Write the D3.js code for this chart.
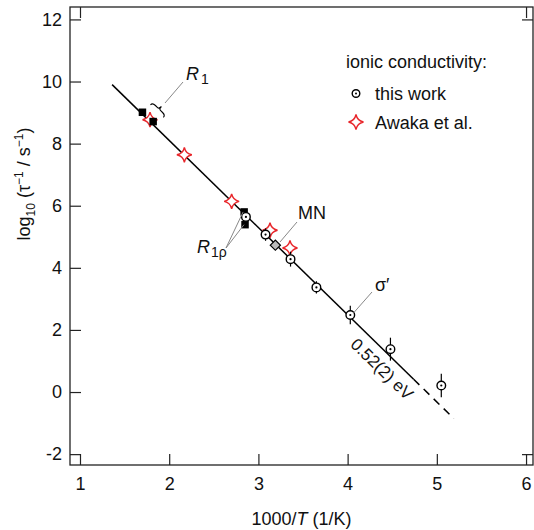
<!DOCTYPE html>
<html><head><meta charset="utf-8">
<script src="https://cdn.jsdelivr.net/npm/d3@7"></script>
<style>body{margin:0;background:#fff}svg{display:block;font-family:"Liberation Sans",Arial,sans-serif}</style>
</head><body><svg id="c" width="534" height="530"></svg>
<script>
// ---- data ----
const xTicks = [1, 2, 3, 4, 5, 6];
const yTicks = [-2, 0, 2, 4, 6, 8, 10, 12];
const xMirrorTicks = [1, 6];
const yMirrorTicks = [-2, 12];
const thisWorkX = [2.86, 3.08, 3.36, 3.65, 4.03, 4.48, 5.05];
const thisWorkY = [5.64, 5.07, 4.28, 3.37, 2.48, 1.38, 0.21];
const thisWorkErr = [0.2, 0.2, 0.24, 0.2, 0.3, 0.37, 0.38];
const awakaX = [1.785, 2.17, 2.70, 3.13, 3.354];
const awakaY = [8.77, 7.64, 6.14, 5.21, 4.64];
const r1X = [1.70, 1.82];
const r1Y = [9.01, 8.71];
const r1rhoX = [2.84, 2.85];
const r1rhoY = [5.80, 5.39];
const mnX = [3.19];
const mnY = [4.73];
const fitSolidX = [1.36, 4.74];
const fitSolidY = [9.90, 0.41];
const fitDashX = [4.74, 5.19];
const fitDashY = [0.41, -0.85];

const svg = d3.select("#c");
const L = 70, R = 533, T = 7, B = 465;
const x = d3.scaleLinear().domain([0.888, 6.078]).range([L, R]);
const y = d3.scaleLinear().domain([-2.35, 12.4]).range([B, T]);
const FS = 18;

// frame
svg.append("rect").attr("x", L).attr("y", T).attr("width", R - L).attr("height", B - T)
  .attr("fill", "none").attr("stroke", "#222").attr("stroke-width", 1.3);

const tl = 11;
// axes with inward ticks
const gx = svg.append("g").attr("transform", `translate(0,${B})`)
  .call(d3.axisBottom(x).tickValues(xTicks).tickSizeInner(-tl).tickSizeOuter(0).tickPadding(12).tickFormat(d3.format("d")));
const gxt = svg.append("g").attr("transform", `translate(0,${T})`)
  .call(d3.axisTop(x).tickValues(xMirrorTicks).tickSizeInner(-tl).tickSizeOuter(0).tickFormat(""));
const gy = svg.append("g").attr("transform", `translate(${L},0)`)
  .call(d3.axisLeft(y).tickValues(yTicks).tickSizeInner(-tl).tickSizeOuter(0).tickPadding(8).tickFormat(d => d < 0 ? "-" + Math.abs(d) : d));
const gyr = svg.append("g").attr("transform", `translate(${R},0)`)
  .call(d3.axisRight(y).tickValues(yMirrorTicks).tickSizeInner(-tl).tickSizeOuter(0).tickFormat(""));
[gx, gxt, gy, gyr].forEach(g => {
  g.select(".domain").remove();
  g.selectAll("line").attr("stroke", "#222").attr("stroke-width", 1.2);
  g.selectAll("text").attr("font-size", FS).attr("fill", "#111").attr("font-family", "Liberation Sans, Arial, sans-serif");
});

// axis titles
const xt = svg.append("text").attr("x", (L + R) / 2).attr("y", 525).attr("text-anchor", "middle").attr("font-size", FS).attr("fill", "#111");
xt.append("tspan").text("1000/");
xt.append("tspan").attr("font-style", "italic").text("T");
xt.append("tspan").text(" (1/K)");

const yt = svg.append("text").attr("transform", "translate(30,184) rotate(-90)").attr("text-anchor", "middle").attr("font-size", FS).attr("fill", "#111");
yt.append("tspan").text("log");
yt.append("tspan").attr("font-size", 12).attr("dy", 5).text("10");
yt.append("tspan").attr("dy", -5).text(" (τ");
yt.append("tspan").attr("font-size", 12).attr("dy", -7).text("−1");
yt.append("tspan").attr("dy", 7).text(" / s");
yt.append("tspan").attr("font-size", 12).attr("dy", -7).text("−1");
yt.append("tspan").attr("dy", 7).text(")");

// fit line
const line = d3.line().x(d => x(d[0])).y(d => y(d[1]));
svg.append("path").attr("d", line(d3.zip(fitSolidX, fitSolidY))).attr("stroke", "#000").attr("stroke-width", 1.5).attr("fill", "none");
svg.append("path").attr("d", line(d3.zip(fitDashX, fitDashY))).attr("stroke", "#000").attr("stroke-width", 1.5).attr("fill", "none").attr("stroke-dasharray", "8,6");

// star path
function starPath(r) {
  const c = r * 0.17;
  return `M0,${-r} Q${c},${-c} ${r},0 Q${c},${c} 0,${r} Q${-c},${c} ${-r},0 Q${-c},${-c} 0,${-r} Z`;
}
// stars
svg.append("g").selectAll("path").data(d3.zip(awakaX, awakaY)).join("path")
  .attr("d", starPath(7.5)).attr("transform", d => `translate(${x(d[0])},${y(d[1])})`)
  .attr("fill", "#fff").attr("stroke", "#e8262b").attr("stroke-width", 1.4);

// squares
const sq = 7.5;
svg.append("g").selectAll("rect").data(d3.zip(r1X.concat(r1rhoX), r1Y.concat(r1rhoY))).join("rect")
  .attr("x", d => x(d[0]) - sq / 2).attr("y", d => y(d[1]) - sq / 2).attr("width", sq).attr("height", sq).attr("fill", "#000");

// diamond
svg.append("g").selectAll("rect").data(d3.zip(mnX, mnY)).join("rect")
  .attr("x", -3.6).attr("y", -3.6).attr("width", 7.2).attr("height", 7.2)
  .attr("transform", d => `translate(${x(d[0])},${y(d[1])}) rotate(45)`)
  .attr("fill", "#bbb").attr("stroke", "#000").attr("stroke-width", 1.2);

// this work circles with error bars
const tw = d3.range(thisWorkX.length).map(i => [thisWorkX[i], thisWorkY[i], thisWorkErr[i]]);
const gtw = svg.append("g");
gtw.selectAll("line").data(tw).join("line")
  .attr("x1", d => x(d[0])).attr("x2", d => x(d[0]))
  .attr("y1", d => y(d[1] + d[2])).attr("y2", d => y(d[1] - d[2]))
  .attr("stroke", "#000").attr("stroke-width", 1.2);
gtw.selectAll("circle.o").data(tw).join("circle").attr("class", "o")
  .attr("cx", d => x(d[0])).attr("cy", d => y(d[1])).attr("r", 4.3)
  .attr("fill", "#fff").attr("stroke", "#000").attr("stroke-width", 1.4);
gtw.selectAll("circle.d").data(tw).join("circle").attr("class", "d")
  .attr("cx", d => x(d[0])).attr("cy", d => y(d[1])).attr("r", 1.1).attr("fill", "#000");

// annotations
const lead = (x1, y1, x2, y2) => svg.append("line").attr("x1", x1).attr("y1", y1).attr("x2", x2).attr("y2", y2).attr("stroke", "#888").attr("stroke-width", 1);
// R1
lead(183, 82, 165, 103);
svg.append("path").attr("d", "M-9,3 Q-9,0 -5,0 L-2,0 Q0,0 0,-3.5 Q0,0 2,0 L5,0 Q9,0 9,3")
  .attr("transform", "translate(159,109) rotate(44.3)").attr("fill", "none").attr("stroke", "#000").attr("stroke-width", 1.1);
const r1t = svg.append("text").attr("x", 186).attr("y", 80).attr("font-size", FS).attr("fill", "#111");
r1t.append("tspan").attr("font-style", "italic").text("R");
r1t.append("tspan").attr("font-size", 14).attr("dy", 4).attr("dx", 2).text("1");
// R1rho
lead(226, 248, x(r1rhoX[0]) - 1, y(r1rhoY[0]));
lead(226, 248, x(r1rhoX[1]) - 1, y(r1rhoY[1]));
const r2t = svg.append("text").attr("x", 197).attr("y", 253).attr("font-size", FS).attr("fill", "#111");
r2t.append("tspan").attr("font-style", "italic").text("R");
r2t.append("tspan").attr("font-size", 14).attr("dy", 4).attr("dx", 1).text("1ρ");
// MN
lead(297, 222, 280, 242);
svg.append("text").attr("x", 298).attr("y", 219).attr("font-size", FS).attr("fill", "#111").text("MN");
// sigma'
lead(372, 292, 353.5, 313);
svg.append("text").attr("x", 375).attr("y", 291).attr("font-size", FS).attr("fill", "#111").text("σ′");
// activation energy
svg.append("text").attr("transform", "translate(381,370) rotate(44.3)").attr("text-anchor", "middle")
  .attr("dominant-baseline", "middle").attr("font-size", 17).attr("fill", "#111").text("0.52(2) eV");

// legend
svg.append("text").attr("x", 346).attr("y", 68).attr("font-size", FS).attr("fill", "#111").text("ionic conductivity:");
svg.append("circle").attr("cx", 356).attr("cy", 93.5).attr("r", 3.8).attr("fill", "#fff").attr("stroke", "#000").attr("stroke-width", 1.4);
svg.append("circle").attr("cx", 356).attr("cy", 93.5).attr("r", 1).attr("fill", "#000");
svg.append("text").attr("x", 375).attr("y", 99.5).attr("font-size", FS).attr("fill", "#111").text("this work");
svg.append("path").attr("d", starPath(7.5)).attr("transform", "translate(356,122)")
  .attr("fill", "#fff").attr("stroke", "#e8262b").attr("stroke-width", 1.4);
svg.append("text").attr("x", 375).attr("y", 128.5).attr("font-size", FS).attr("fill", "#111").text("Awaka et al.");
</script></body></html>
